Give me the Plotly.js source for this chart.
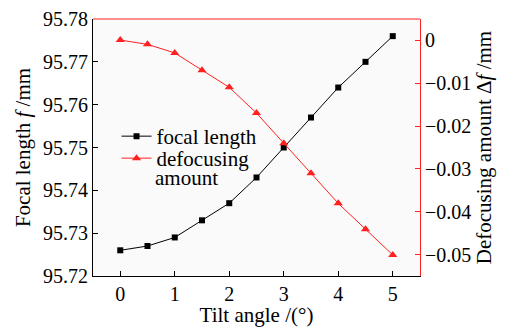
<!DOCTYPE html>
<html><head><meta charset="utf-8">
<script src="https://cdn.plot.ly/plotly-3.0.1.min.js"></script>
<style>html,body{margin:0;padding:0;background:#fff}#c{width:510px;height:327px}</style>
</head><body><div id="c"></div>
<script>
const tilt = [0, 0.5, 1, 1.5, 2, 2.5, 3, 3.5, 4, 4.5, 5];
const focalLength = [95.726, 95.727, 95.729, 95.733, 95.737, 95.743, 95.750, 95.757, 95.764, 95.770, 95.776];
const defocus = [0, -0.001, -0.003, -0.007, -0.011, -0.017, -0.024, -0.031, -0.038, -0.044, -0.050];
const xTicks = [0, 1, 2, 3, 4, 5];
const yTicks = [95.72, 95.73, 95.74, 95.75, 95.76, 95.77, 95.78];
const y2Ticks = [0, -0.01, -0.02, -0.03, -0.04, -0.05];
const legendLabels = ['focal length', 'defocusing', 'amount'];

const F = "'Liberation Serif', serif";
const RED = '#ff2020';
const fnt = {family: F, size: 21, color: '#000'};
const tfnt = {family: F, size: 20, color: '#000'};
const traces = [
  {x: tilt, y: focalLength, name: legendLabels[0], mode: 'lines+markers', legend: 'legend',
   line: {color: '#000', width: 1}, marker: {symbol: 'square', size: 6, color: '#000'}},
  {x: tilt, y: defocus, name: legendLabels[1], yaxis: 'y2', mode: 'lines+markers', legend: 'legend2',
   line: {color: RED, width: 1}, marker: {symbol: 'triangle-up', size: 8, color: RED}}
];
const layout = {
  width: 510, height: 327,
  margin: {l: 93, r: 90, t: 19, b: 51},
  paper_bgcolor: '#fff', plot_bgcolor: '#fafafa',
  font: fnt,
  showlegend: true,
  legend: {x: 0.072, y: 0.6226, xanchor: 'left', yanchor: 'top', bgcolor: 'rgba(0,0,0,0)',
           font: fnt, itemwidth: 30},
  legend2: {x: 0.072, y: 0.537, xanchor: 'left', yanchor: 'top', bgcolor: 'rgba(0,0,0,0)',
           font: fnt, itemwidth: 30},
  annotations: [{text: legendLabels[2], xref: 'paper', yref: 'paper', x: 0.184, y: 0.381,
                 xanchor: 'left', yanchor: 'middle', showarrow: false, font: fnt}],
  xaxis: {range: [-0.5, 5.5], tickvals: xTicks, ticks: 'inside', ticklen: 5, tickcolor: '#000',
          tickfont: tfnt, showline: true, linecolor: '#000', linewidth: 1, showgrid: false, zeroline: false,
          title: {text: 'Tilt angle /(°)', standoff: 0, font: fnt}},
  yaxis: {range: [95.72, 95.78], tickvals: yTicks, tickformat: '.2f', ticks: 'inside', ticklen: 5,
          tickfont: tfnt, tickcolor: '#000', showline: true, linecolor: '#000', linewidth: 1, showgrid: false, zeroline: false,
          title: {text: 'Focal length <i>f</i> /mm', standoff: 6, font: fnt}},
  yaxis2: {overlaying: 'y', side: 'right', range: [-0.0549, 0.0049], tickvals: y2Ticks,
           ticks: 'inside', ticklen: 5, tickcolor: RED, tickfont: tfnt, showline: true, linecolor: RED, linewidth: 1,
           showgrid: false, zeroline: false,
           title: {text: 'Defocusing amount Δ<i>f</i> /mm', standoff: 6, font: fnt}},
  shapes: [{type: 'line', xref: 'paper', yref: 'paper', x0: 0, x1: 1, y0: 1, y1: 1,
            line: {color: RED, width: 1}}]
};
Plotly.newPlot('c', traces, layout, {staticPlot: true});
</script></body></html>
